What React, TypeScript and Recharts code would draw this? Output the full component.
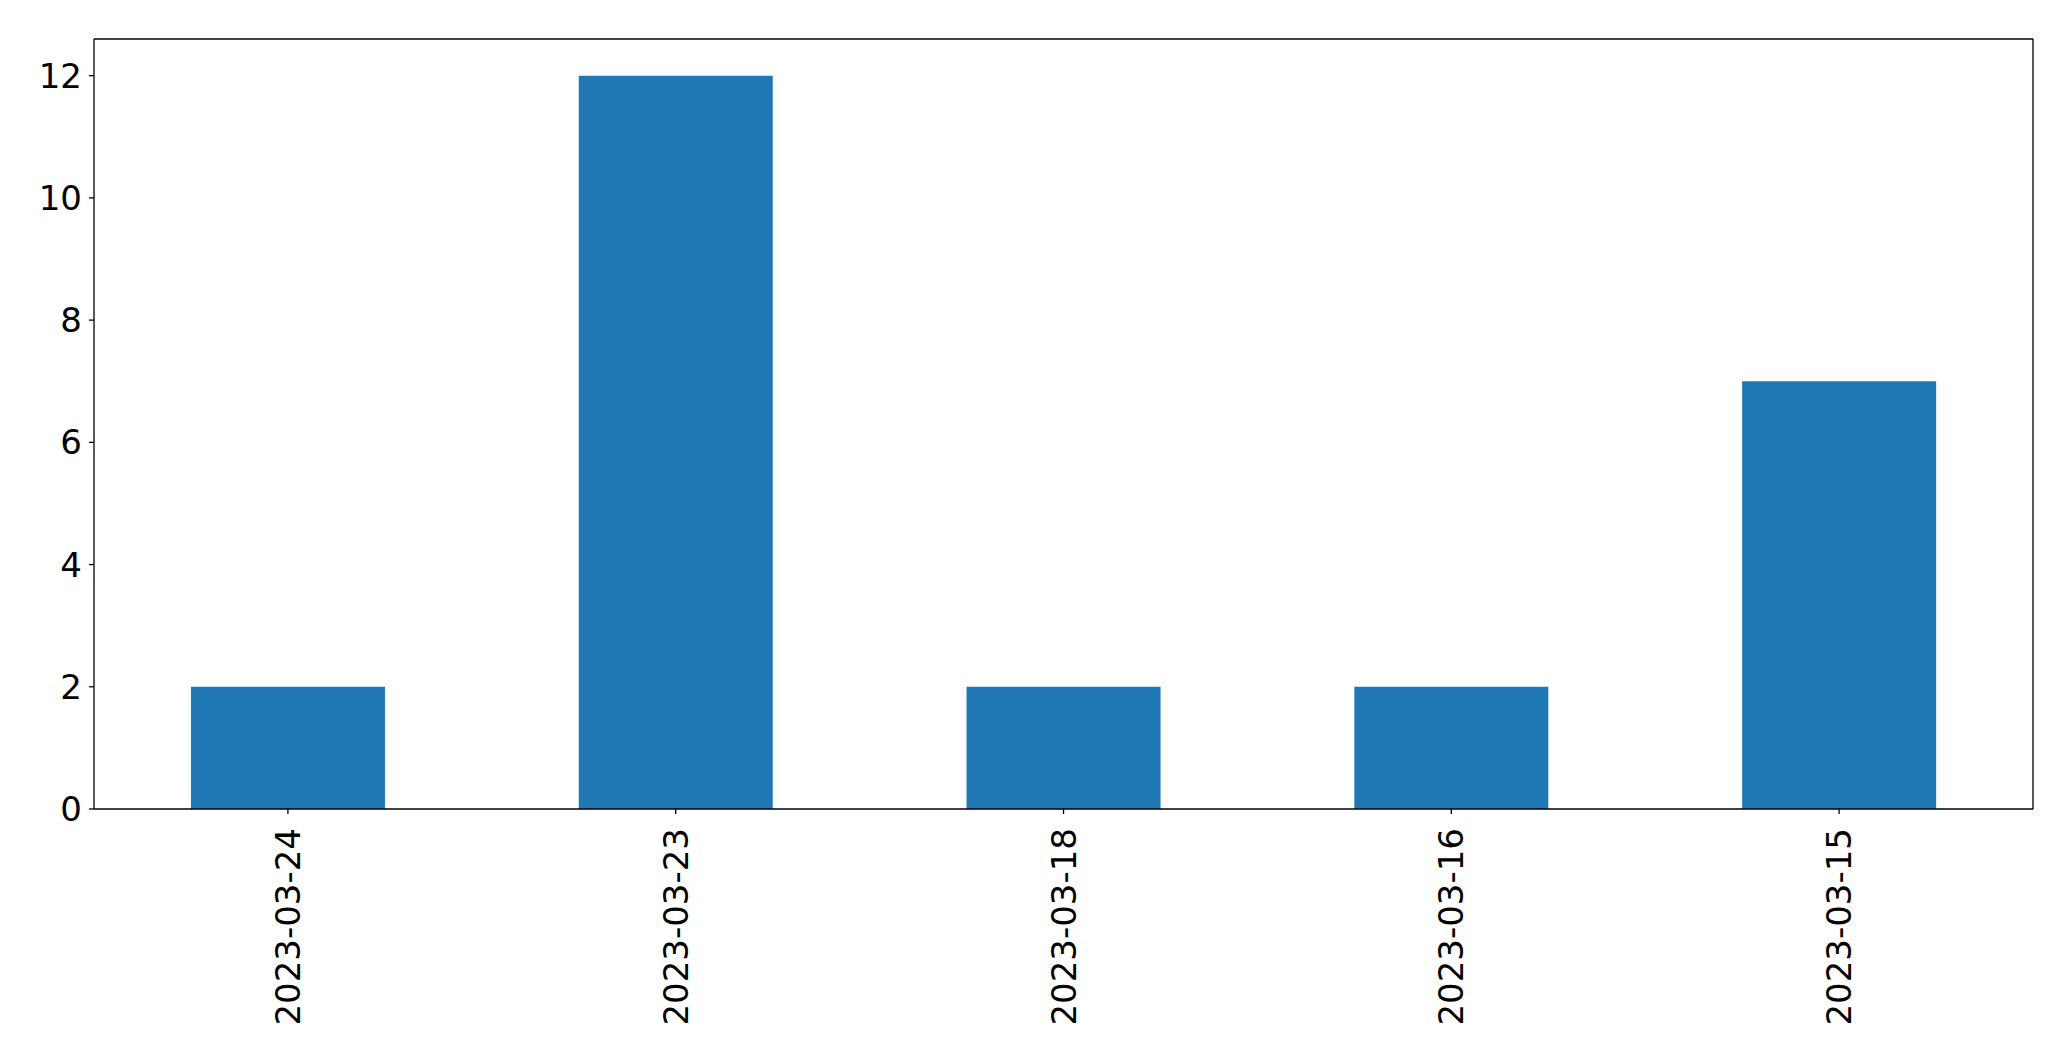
import { Bar, BarChart, XAxis, YAxis } from "recharts";

const dates = ["2023-03-24", "2023-03-23", "2023-03-18", "2023-03-16", "2023-03-15"];
const counts = [2, 12, 2, 2, 7];
const yTicks = [0, 2, 4, 6, 8, 10, 12];

const data = dates.map((date, i) => ({ date, count: counts[i] }));

const font = "'DejaVu Sans', sans-serif";
const black = { stroke: "#000", strokeWidth: 1.3 };

function DateTick(props: any) {
  const { x, y, payload } = props;
  return (
    <text
      x={0}
      y={0}
      transform={`translate(${x},${y + 12}) rotate(-90)`}
      textAnchor="end"
      dominantBaseline="central"
      fontSize={34}
      fontFamily={font}
      fill="#000"
    >
      {payload.value}
    </text>
  );
}

export default function App() {
  return (
    <div style={{ position: "absolute", left: 0, top: 0, background: "#fff" }}>
      <BarChart
        width={2071}
        height={1061}
        data={data}
        margin={{ top: 38, right: 37, left: 0, bottom: 0 }}
        barCategoryGap="25%"
      >
        <XAxis
          dataKey="date"
          height={252}
          interval={0}
          axisLine={black}
          tickLine={black}
          tickSize={5}
          tick={<DateTick />}
        />
        <XAxis xAxisId="top" dataKey="date" orientation="top" height={1} tick={false} tickLine={false} axisLine={black} />
        <YAxis
          width={94}
          domain={[0, 12.6]}
          ticks={yTicks}
          interval={0}
          axisLine={black}
          tickLine={black}
          tickSize={5}
          tickMargin={7}
          tick={{ fontSize: 34, fontFamily: font, fill: "#000" }}
        />
        <YAxis yAxisId="right" orientation="right" width={1} domain={[0, 12.6]} tick={false} tickLine={false} axisLine={black} />
        <Bar dataKey="count" fill="#1f77b4" isAnimationActive={false} />
        <Bar dataKey="count" xAxisId="top" yAxisId="right" fill="none" legendType="none" isAnimationActive={false} />
      </BarChart>
    </div>
  );
}
